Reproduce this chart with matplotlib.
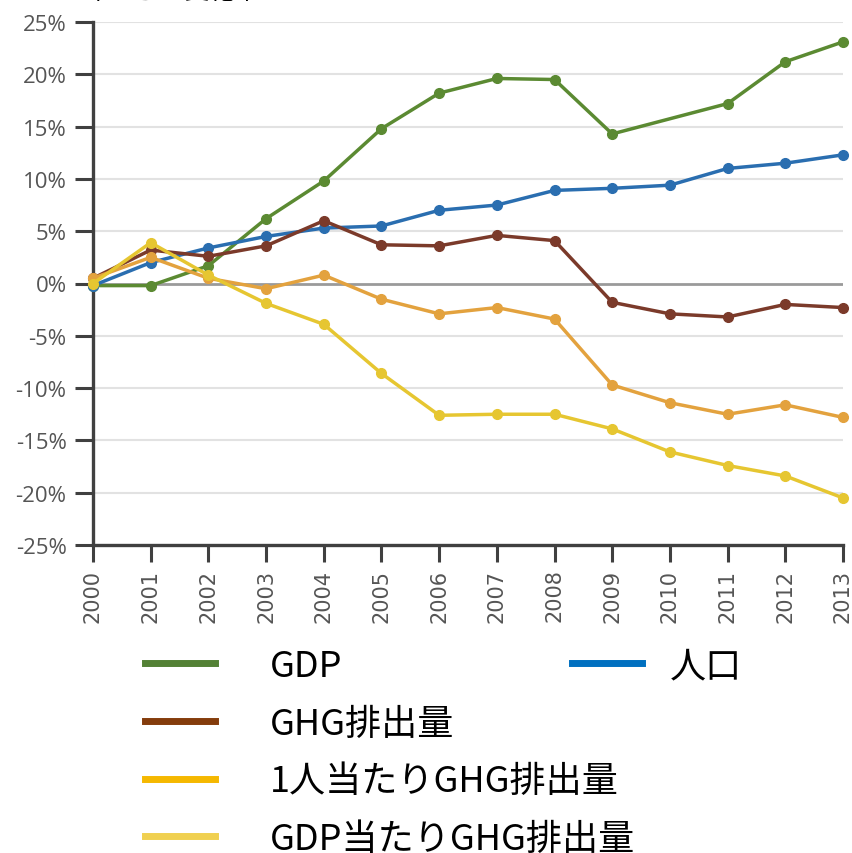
import matplotlib
matplotlib.use("Agg")
import matplotlib.pyplot as plt
from matplotlib.lines import Line2D

plt.rcParams['font.family'] = ['Noto Sans CJK JP', 'DejaVu Sans']

# data (% change from 2000)
years = [2000, 2001, 2002, 2003, 2004, 2005, 2006, 2007, 2008, 2009, 2010, 2011, 2012, 2013]
gdp_years = [2000, 2001, 2002, 2003, 2004, 2005, 2006, 2007, 2008, 2009, 2011, 2012, 2013]
gdp = [-0.2, -0.2, 1.7, 6.2, 9.8, 14.8, 18.2, 19.6, 19.5, 14.3, 17.2, 21.2, 23.1]
population = [-0.2, 2.0, 3.4, 4.5, 5.3, 5.5, 7.0, 7.5, 8.9, 9.1, 9.4, 11.0, 11.5, 12.3]
ghg = [0.5, 3.2, 2.6, 3.6, 6.0, 3.7, 3.6, 4.6, 4.1, -1.8, -2.9, -3.2, -2.0, -2.3]
ghg_per_capita = [0.5, 2.5, 0.5, -0.5, 0.8, -1.5, -2.9, -2.3, -3.4, -9.7, -11.4, -12.5, -11.6, -12.8]
ghg_per_gdp = [0.0, 3.9, 0.8, -1.9, -3.9, -8.6, -12.6, -12.5, -12.5, -13.9, -16.1, -17.4, -18.4, -20.5]
yticks = [25, 20, 15, 10, 5, 0, -5, -10, -15, -20, -25]

labels = ['GDP', '人口', 'GHG排出量', '1人当たりGHG排出量', 'GDP当たりGHG排出量']
line_colors = ['#5b8a32', '#2a6eb0', '#7b3a2a', '#e3a23e', '#e6c631']
legend_colors = ['#538135', '#0070c0', '#843c0c', '#f5b800', '#f0d050']

fig = plt.figure(figsize=(8.52, 8.54), dpi=100)
ax = fig.add_axes([93 / 852, 1 - 546 / 854, 750 / 852, 523 / 854])

# grid
for v in yticks:
    if v == 0:
        ax.axhline(v, color='#9a9a9a', lw=2.0, zorder=1)
    else:
        ax.axhline(v, color='#e2e2e2', lw=1.5, zorder=0)

series = [(gdp_years, gdp), (years, population), (years, ghg),
          (years, ghg_per_capita), (years, ghg_per_gdp)]
for (xs, ys), c in zip(series, line_colors):
    ax.plot(xs, ys, color=c, lw=2.5, marker='o', markersize=7, zorder=3, clip_on=False)

ax.set_xlim(2000, 2013)
ax.set_ylim(-25, 25)
ax.set_xticks(years)
ax.set_xticklabels([str(y) for y in years], rotation=90, fontsize=15,
                   color='#555555', family='DejaVu Sans')
ax.set_yticks(yticks)
ax.set_yticklabels([f'{v}%' for v in yticks], fontsize=16, color='#555555', family='Open Sans')
ax.tick_params(axis='y', length=13, width=2.2, pad=6, color='#404040')
ax.tick_params(axis='x', length=12, width=2.2, pad=5, color='#404040')
for s in ['top', 'right']:
    ax.spines[s].set_visible(False)
for s in ['left', 'bottom']:
    ax.spines[s].set_color('#404040')
    ax.spines[s].set_linewidth(2.4)

# title, cut off at the top edge as in the source
fig.text(30 / 852, 1 - 5 / 854, '2000年からの変化率', fontsize=18, va='bottom', ha='left')

# legend
h = [Line2D([], [], color=c, lw=5) for c in legend_colors]
leg1 = fig.legend([h[0], h[2], h[3], h[4]], [labels[0], labels[2], labels[3], labels[4]],
                  loc='upper left', bbox_to_anchor=(127 / 852, 1 - 631 / 854),
                  frameon=False, fontsize=26, handlelength=1.95, handletextpad=1.5,
                  labelspacing=0.6, borderpad=0)
leg2 = fig.legend([h[1]], [labels[1]],
                  loc='upper left', bbox_to_anchor=(554 / 852, 1 - 631 / 854),
                  frameon=False, fontsize=26, handlelength=1.95, handletextpad=0.75,
                  borderpad=0)

fig.savefig('out.png', dpi=100)
